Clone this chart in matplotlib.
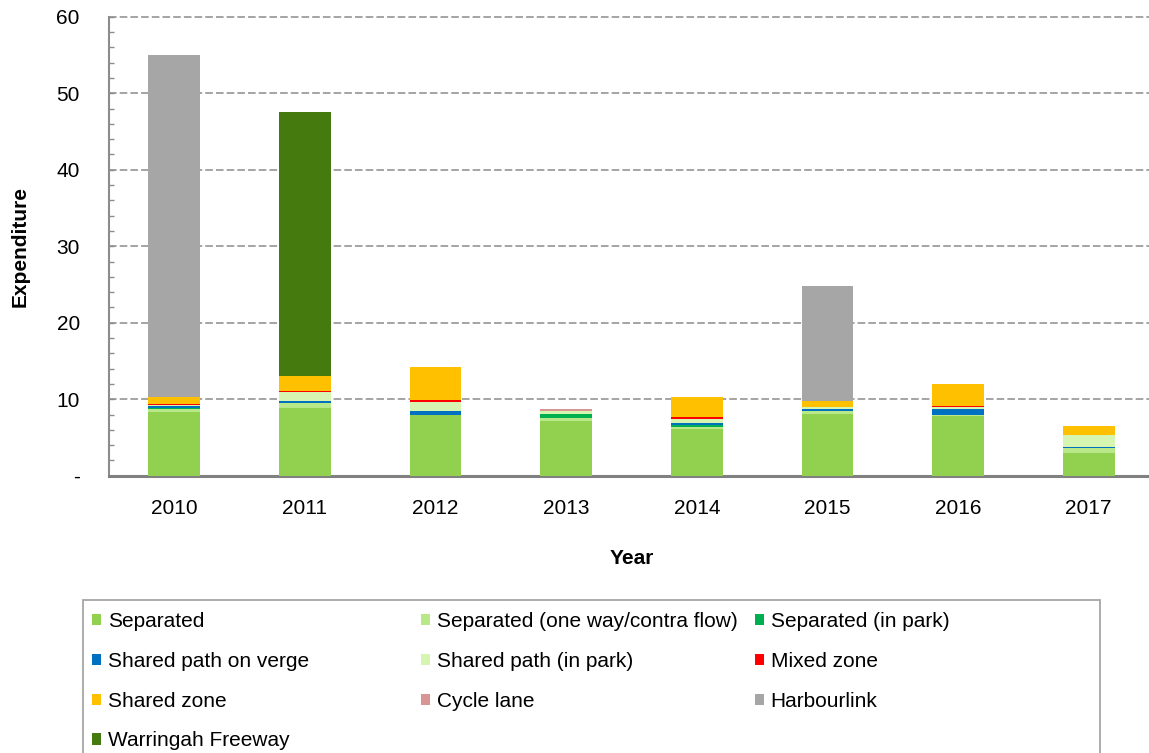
import matplotlib
matplotlib.use("Agg")
import matplotlib.pyplot as plt
from matplotlib.patches import Rectangle, Patch
from matplotlib.ticker import MultipleLocator
import numpy as np

plt.rcParams['font.family'] = ['Liberation Sans', 'DejaVu Sans']

years = ["2010", "2011", "2012", "2013", "2014", "2015", "2016", "2017"]
categories = ["Separated", "Separated (one way/contra flow)", "Separated (in park)",
              "Shared path on verge", "Shared path (in park)", "Mixed zone",
              "Shared zone", "Cycle lane", "Harbourlink", "Warringah Freeway"]
colors = ["#92D050", "#B9E889", "#00B050", "#0070C0", "#D6F5B0", "#FF0000",
          "#FFC000", "#D99594", "#A6A6A6", "#457A0F"]

separated       = [8.35, 8.80, 7.96, 7.17, 6.09, 8.13, 7.74, 3.00]
separated_oneway= [0.35, 0.70, 0.00, 0.31, 0.31, 0.27, 0.16, 0.57]
separated_park  = [0.10, 0.00, 0.00, 0.57, 0.20, 0.00, 0.00, 0.00]
shared_verge    = [0.30, 0.25, 0.44, 0.00, 0.27, 0.34, 0.88, 0.17]
shared_park     = [0.20, 1.15, 1.17, 0.39, 0.53, 0.26, 0.22, 1.61]
mixed_zone      = [0.10, 0.20, 0.30, 0.00, 0.25, 0.00, 0.15, 0.00]
shared_zone     = [0.90, 1.90, 4.40, 0.00, 2.65, 0.70, 2.80, 1.09]
cycle_lane      = [0.00, 0.00, 0.00, 0.26, 0.00, 0.00, 0.00, 0.00]
harbourlink     = [44.70, 0.00, 0.00, 0.00, 0.00, 15.04, 0.00, 0.00]
warringah       = [0.00, 34.60, 0.00, 0.00, 0.00, 0.00, 0.00, 0.00]

series = [separated, separated_oneway, separated_park, shared_verge, shared_park,
          mixed_zone, shared_zone, cycle_lane, harbourlink, warringah]

W, H = 1149, 753
fig = plt.figure(figsize=(W/100, H/100), dpi=100)
ax_left, ax_right, ax_top, ax_bottom = 109, 1154, 16.7, 475.7
ax = fig.add_axes([ax_left/W, 1-ax_bottom/H, (ax_right-ax_left)/W, (ax_bottom-ax_top)/H])

x = np.arange(len(years))
bottom = np.zeros(len(years))
for vals, col, lab in zip(series, colors, categories):
    v = np.array(vals)
    ax.bar(x, v, bottom=bottom, width=0.396, color=col, label=lab,
           edgecolor='none', zorder=3)
    bottom += v

ax.set_xlim(-0.5, len(years) - 0.5)
ax.set_ylim(0, 60)
ax.set_xticks(x)
ax.set_xticklabels(years, fontsize=15)
ax.yaxis.set_minor_locator(MultipleLocator(2))
ax.set_yticks([0, 10, 20, 30, 40, 50, 60])
ax.set_yticklabels(["-", "10", "20", "30", "40", "50", "60"], fontsize=15)
ax.tick_params(axis='y', which='both', direction='in', color='#8C8C8C',
               length=3.5, width=1.0, pad=21)
ax.tick_params(axis='x', length=0, pad=17)
ax.spines['top'].set_visible(False)
ax.spines['right'].set_visible(False)
ax.spines['left'].set_color('#8C8C8C')
ax.spines['left'].set_linewidth(1.5)
ax.spines['bottom'].set_color('#808080')
ax.spines['bottom'].set_linewidth(2.2)

for yv in [10, 20, 30, 40, 50, 60]:
    ax.axhline(yv, color='#8C8C8C', linestyle=(0, (5, 2)), linewidth=1.1,
               zorder=1, clip_on=False)

ax.set_xlabel("Year", fontsize=15, fontweight='bold', labelpad=22)
ax.set_ylabel("Expenditure", fontsize=15, fontweight='bold')
ax.yaxis.set_label_coords(-(ax_left-20)/(ax_right-ax_left), 0.5)
ax.yaxis.label.set_verticalalignment('center')

# Legend frame
fig.patches.append(Rectangle((83/W, -0.01), (1100-83)/W, 1-600/H + 0.01,
                             transform=fig.transFigure, fill=False,
                             edgecolor='#A6A6A6', linewidth=1.3))

handles = [Patch(facecolor=c, edgecolor='none') for c in colors]
col_groups = [[0, 3, 6, 9], [1, 4, 7], [2, 5, 8]]
col_x = [92/W, 421/W, 755/W]
for xs, grp in zip(col_x, col_groups):
    fig.legend([handles[i] for i in grp], [categories[i] for i in grp],
               loc='upper left', bbox_to_anchor=(xs, 1-612/H),
               frameon=False, fontsize=15, handlelength=0.45,
               handleheight=0.45, handletextpad=0.3, labelspacing=1.0,
               borderaxespad=0, borderpad=0)

fig.savefig("out.png", dpi=100)
